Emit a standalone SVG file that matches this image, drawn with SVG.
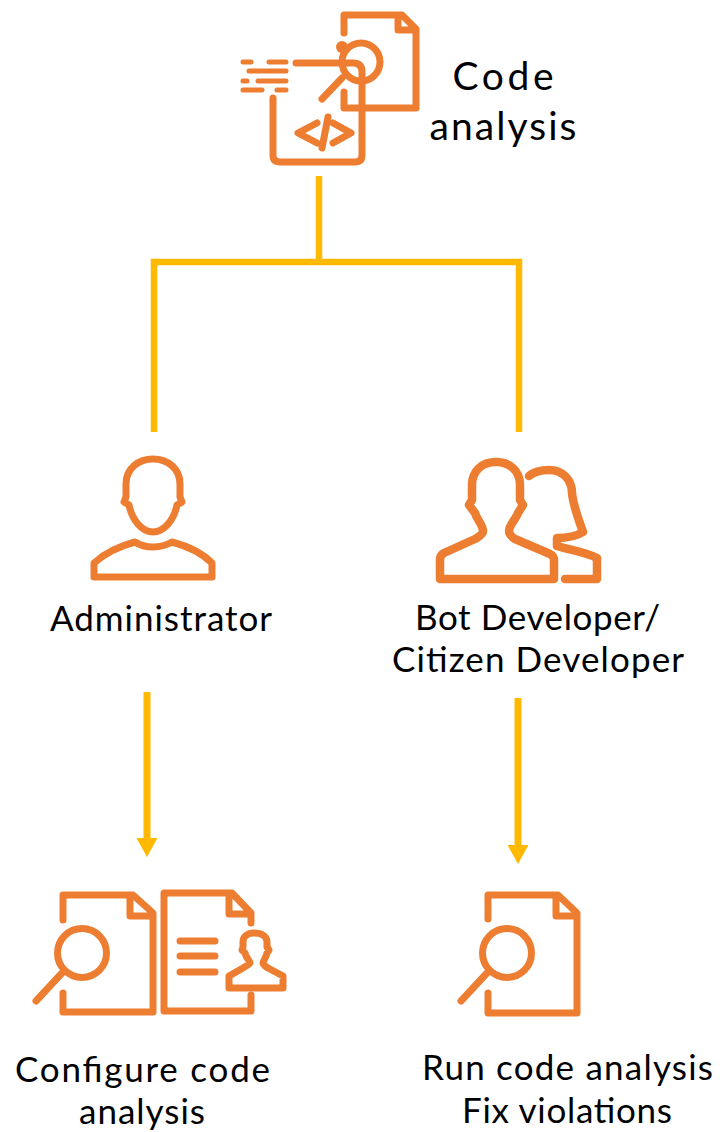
<svg xmlns="http://www.w3.org/2000/svg" width="722" height="1132" viewBox="0 0 722 1132">
<style>
.i{fill:none;stroke:#ED7D31;stroke-width:7;stroke-linecap:round;stroke-linejoin:round}
.c{fill:none;stroke:#FFB900;stroke-width:6.5}
.t{font-family:"Lato","Noto Sans","Liberation Sans",sans-serif;font-size:35px;fill:#000;text-anchor:middle}
</style>
<defs>
<marker id="a" markerUnits="userSpaceOnUse" markerWidth="20" markerHeight="21" refX="0" refY="10.5" orient="auto"><path d="M0 0L19 10.5L0 21Z" fill="#FFB900"/></marker>
<g id="mag"><circle cx="0" cy="0" r="24.5" class="i"/><path d="M-20 20L-46 48" class="i"/></g>
</defs>
<rect width="722" height="1132" fill="#fff"/>
<g id="connectors">
<path class="c" d="M319 176V262M154 432V262H519V432"/>
<path class="c" style="stroke-width:7" d="M147 692V838" marker-end="url(#a)"/>
<path class="c" style="stroke-width:7" d="M518 698V845" marker-end="url(#a)"/>
</g>
<g id="code-analysis">
<path class="i" d="M344 33V15H402L416 29V108H344V92M398 15V30H416"/>
<circle class="i" cx="361" cy="62" r="19"/>
<circle cx="342" cy="47" r="6" fill="#ED7D31"/>
<path class="i" d="M342 78L322 99"/>
<path class="i" d="M273 98V155Q273 162 280 162H355Q362 162 362 155V72Q362 63 353 63H296"/>
<path class="i" d="M243 62H251M269 62H286M249 71H286M243 81H247M258 81H286M243 90H262M277 90H286" style="stroke-width:5"/>
<path class="i" d="M317 123L298 133L317 143M328 117L322 148M333 123L351 133L333 143"/>
<text class="t" style="font-size:39px" x="503" y="90" textLength="101">Code</text>
<text class="t" style="font-size:39px" x="503" y="140" textLength="147">analysis</text>
</g>
<g id="administrator">
<path class="i" d="M126 497L124 502L129 505C132 520 142 532 153 532C164 532 174 520 177 505L182 502L180 497V484C180 468 167 459 153 459C139 459 126 468 126 484Z"/>
<path class="i" d="M94 563C105 553 120 546 135 542C141 546 147 547 153 547C159 547 165 546 172 542C187 546 202 553 212 563V577H94Z"/>
<text class="t" x="161" y="631" textLength="222">Administrator</text>
</g>
<g id="bot-developer">
<path class="i" style="stroke-width:8.5" d="M472 500L469 505L475 513C477 520 483 525 483 531C483 535 478 537 475 539L444 553Q440 555 440 560V579H554V560Q554 556 550 554L515 539C512 537 509 535 509 531C509 525 516 519 518 513L523 505L520 500V485C520 471 510 462 496 462C482 462 472 471 472 485Z"/>
<path class="i" style="stroke-width:8.5" d="M529 476C535 471 542 470 549 470C563 470 572 480 572 493C573 505 578 518 583 532C575 537 566 538 557 538V546C570 550 585 552 597 558V579H565"/>
<text class="t" x="537.5" y="630" textLength="245">Bot Developer/</text>
<text class="t" x="538" y="672" textLength="292">Citizen Developer</text>
</g>
<g id="configure">
<path class="i" d="M63 920V895H133L153 913V1012H63V993M130 895V916H153"/>
<use href="#mag" x="82" y="953"/>
<path class="i" d="M251 923V913L232 893H164V1011H251V995M229 893V914H251"/>
<path class="i" d="M180 941H215M180 956H215M180 972H215"/>
<path class="i" d="M243 947L242 950L245 953C246 958 250 961 250 963C249 965 246 966 243 968L229 976V988H283V976L268 968C265 966 263 965 263 963C263 961 266 958 267 953L269 950L267 947V942C267 936 261 933 254 933C248 933 243 936 243 942Z"/>
<text class="t" x="142.5" y="1082" textLength="255">Configure code</text>
<text class="t" x="142" y="1124" textLength="126">analysis</text>
</g>
<g id="run">
<path class="i" d="M488 919V895H558L577 913V1013H488V993M556 895V916H577"/>
<use href="#mag" x="507" y="953"/>
<text class="t" x="567.5" y="1080" textLength="291">Run code analysis</text>
<text class="t" x="567" y="1123" textLength="210">Fix violations</text>
</g>
</svg>
